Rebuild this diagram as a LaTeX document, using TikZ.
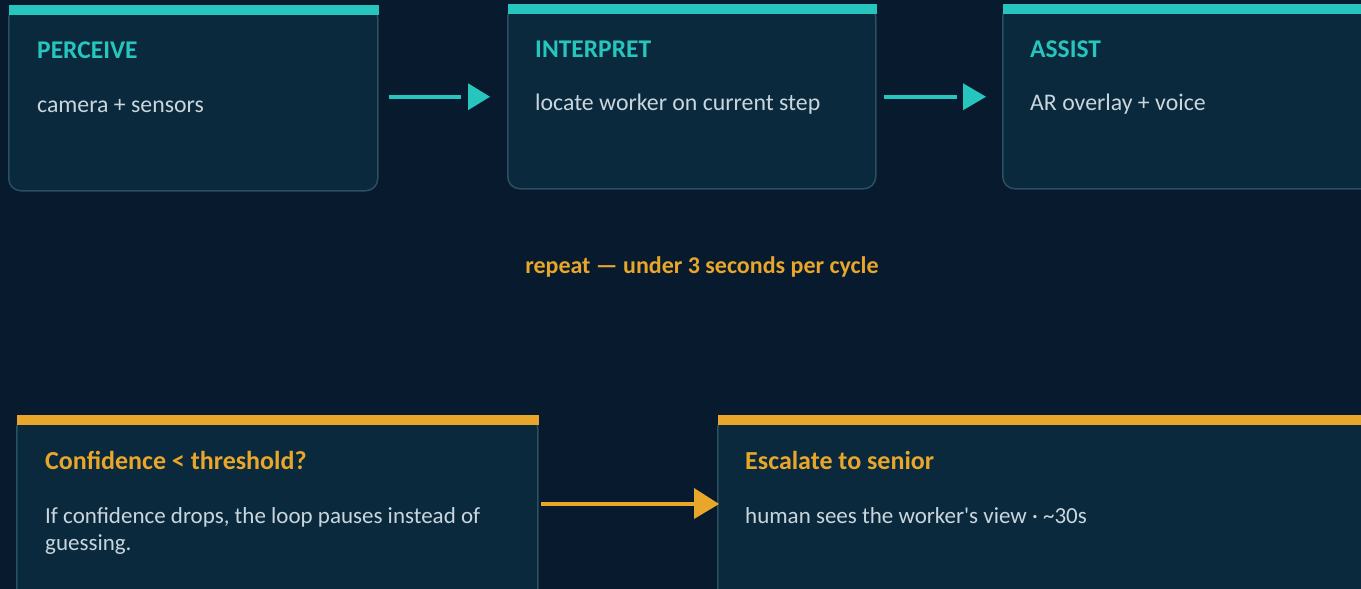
\documentclass[tikz,border=0pt]{standalone}
\usepackage{fontspec}
\setmainfont{Carlito}[Ligatures=TeXOff]
\definecolor{bg}{HTML}{081A2E}
\definecolor{boxfill}{HTML}{0B293C}
\definecolor{boxline}{HTML}{28505F}
\definecolor{tealc}{HTML}{26C6BF}
\definecolor{orangec}{HTML}{E8A62A}
\definecolor{bodyc}{HTML}{C9D6DE}
\tikzset{
  card/.style={rectangle, rounded corners=12pt, fill=boxfill, draw=boxline, line width=1.5pt, anchor=north west, inner sep=0pt},
  ttl/.style={font=\fontsize{25.5}{29}\selectfont\bfseries, anchor=base west, inner sep=0pt},
  ttlb/.style={font=\fontsize{26}{29}\selectfont\bfseries, anchor=base west, inner sep=0pt},
  bod/.style={font=\fontsize{23.8}{27}\selectfont, text=bodyc, anchor=base west, inner sep=0pt},
  bodb/.style={font=\fontsize{23}{27}\selectfont, text=bodyc, anchor=base west, inner sep=0pt},
  tline/.style={line width=4pt, tealc},
  oline/.style={line width=4pt, orangec},
}
\begin{document}
\begin{tikzpicture}[x=1pt,y=-1pt]
\fill[bg] (0,0) rectangle (1361,589);
\useasboundingbox (0,0) rectangle (1361,589);
\clip (0,0) rectangle (1361,589);
% top row cards
\node[card, minimum width=369pt, minimum height=185pt] (p) at (8,5) {};
\node[card, minimum width=368pt, minimum height=184pt] (i) at (507,4) {};
\node[card, minimum width=400pt, minimum height=184pt] (a) at (1002,4) {};
\fill[tealc] ([xshift=0.75pt]p.north west) rectangle ([yshift=-10pt]p.north east);
\fill[tealc] ([xshift=0.75pt]i.north west) rectangle ([yshift=-10pt]i.north east);
\fill[tealc] ([xshift=0.75pt]a.north west) rectangle ([yshift=-10pt]a.north east);
\node[ttl, text=tealc] (pt) at (37,58) {PERCEIVE};
\node[bod] (pb) at (37,112) {camera + sensors};
\node[ttl, text=tealc] (it) at (535,57) {INTERPRET};
\node[bod] (ib) at (535,110) {locate worker on current step};
\node[ttl, text=tealc] (at) at (1030,57) {ASSIST};
\node[bod] (ab) at (1030,110) {AR overlay + voice};
% arrows top
\draw[tline] ([xshift=10pt]p.east |- i.west) -- ([xshift=-46pt]i.west);
\fill[tealc] ([xshift=-39pt,yshift=13.5pt]i.west) -- ([xshift=-17pt]i.west) -- ([xshift=-39pt,yshift=-13.5pt]i.west) -- cycle;
\draw[tline] ([xshift=7pt]i.east) -- ([xshift=-45pt]a.west);
\fill[tealc] ([xshift=-39pt,yshift=13.5pt]a.west) -- ([xshift=-16pt]a.west) -- ([xshift=-39pt,yshift=-13.5pt]a.west) -- cycle;
% middle label
\node[font=\fontsize{24}{28}\selectfont\bfseries, text=orangec, anchor=base, inner sep=0pt] (rep) at (702,273) {repeat — under 3 seconds per cycle};
% bottom cards
\node[card, minimum width=521pt, minimum height=200pt] (c) at (16,415) {};
\node[card, minimum width=700pt, minimum height=200pt] (e) at (717,415) {};
\fill[orangec] ([xshift=0.75pt]c.north west) rectangle ([yshift=-10pt]c.north east);
\fill[orangec] ([xshift=0.75pt]e.north west) rectangle ([yshift=-10pt]e.north east);
\node[ttlb, text=orangec] (ct) at (45,469) {Confidence < threshold?};
\node[bodb, align=left, anchor=base west] (cb) at (45,550) {If confidence drops, the loop pauses instead of\\guessing.};
\node[ttlb, text=orangec] (et) at (745,469) {Escalate to senior};
\node[bodb] (eb) at (745,523) {human sees the worker's view · \textasciitilde30s};
% bottom arrow
\coordinate (cs) at (541,504);
\coordinate (ce) at (700,504);
\draw[oline] (cs) -- (ce);
\fill[orangec] (694,488) -- (719,504) -- (694,519) -- cycle;
\end{tikzpicture}
\end{document}
